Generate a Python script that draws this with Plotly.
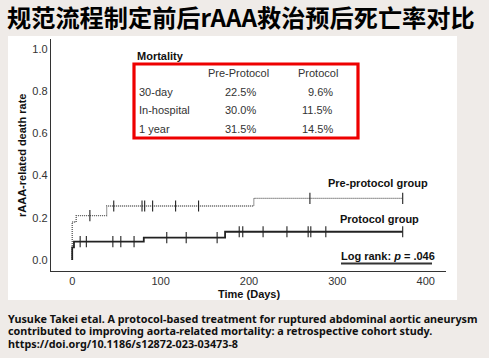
import numpy as np
import plotly.graph_objects as go

# ---------------- data ----------------
pre_times = [0, 0, 4.5, 39, 205.5, 374]
pre_rates = [0, 0.18, 0.21, 0.256, 0.292, 0.292]
pre_censor = [20, 47, 79, 82, 91, 117, 143, 269, 374]

pro_times = [0, 0, 2, 81, 173, 374]
pro_rates = [0, 0.06, 0.087, 0.106, 0.134, 0.134]
pro_censor = [9, 16, 46, 55, 70, 107, 129, 164, 189, 193, 216, 243, 267, 270, 287, 374]

x_ticks = [0, 100, 200, 300, 400]
y_ticks = [0.0, 0.2, 0.4, 0.6, 0.8, 1.0]

table_cols = ["Pre-Protocol", "Protocol"]
table_rows = ["30-day", "In-hospital", "1 year"]
table_pre = ["22.5%", "30.0%", "31.5%"]
table_pro = ["9.6%", "11.5%", "14.5%"]

title = "规范流程制定前后rAAA救治预后死亡率对比"
caption = [
    "Yusuke Takei etal. A protocol-based treatment for ruptured abdominal aortic aneurysm",
    "contributed to improving aorta-related mortality: a retrospective cohort study.",
    "https://doi.org/10.1186/s12872-023-03473-8",
]


def step_value(times, rates, t):
    idx = np.searchsorted(np.array(times), t, side="right") - 1
    return rates[max(idx, 0)]


W, H = 489, 358
L, R, T, B = 51, 446, 39, 271
BG = "#efebe8"


def px(x):
    return (x - L) / (R - L)


def py(y):
    return (B - y) / (B - T)


FONT = "Liberation Sans, Arial, sans-serif"
TXT = "#333333"

fig = go.Figure()

fig.add_trace(go.Scatter(x=pre_times, y=pre_rates, mode="lines", line_shape="hv",
                         line=dict(color="#555555", width=1.3, dash="1px,1px"), hoverinfo="skip"))
fig.add_trace(go.Scatter(x=pre_censor, y=[step_value(pre_times, pre_rates, t) for t in pre_censor],
                         mode="markers", marker=dict(symbol="line-ns", size=8,
                                                     line=dict(width=1.1, color="#222"))))
fig.add_trace(go.Scatter(x=pro_times, y=pro_rates, mode="lines", line_shape="hv",
                         line=dict(color="#222222", width=1.8), hoverinfo="skip"))
fig.add_trace(go.Scatter(x=pro_censor, y=[step_value(pro_times, pro_rates, t) for t in pro_censor],
                         mode="markers", marker=dict(symbol="line-ns", size=8,
                                                     line=dict(width=1.1, color="#222"))))

shapes = [
    # white panel
    dict(type="rect", xref="paper", yref="paper", x0=px(8), x1=px(457), y0=py(300), y1=py(36),
         fillcolor="white", line=dict(width=0), layer="below"),
    # red box
    dict(type="rect", xref="paper", yref="paper", x0=px(134), x1=px(358), y0=py(138), y1=py(64),
         fillcolor="rgba(0,0,0,0)", line=dict(width=3.2, color="#ee0000")),
    # underline for log rank
    dict(type="line", xref="paper", yref="paper", x0=px(341), x1=px(432), y0=py(263.5), y1=py(263.5),
         line=dict(width=1.8, color="#333")),
]

ann = []


def add_text(text, x, y, size=11, bold=False, xanchor="left", color=TXT, font=FONT, angle=0):
    ann.append(dict(text=("<b>%s</b>" % text) if bold else text, x=px(x), y=py(y),
                    xref="paper", yref="paper", xanchor=xanchor, yanchor="middle",
                    showarrow=False, textangle=angle, borderpad=0, borderwidth=0,
                    font=dict(size=size, color=color, family=font)))


add_text("Mortality", 137, 56, bold=True, color="#111")
add_text(table_cols[0], 238, 73.5, xanchor="center")
add_text(table_cols[1], 318, 73.5, xanchor="center")
for i, lab in enumerate(table_rows):
    yy = 92 + i * 18.3
    add_text(lab, 139, yy)
    add_text(table_pre[i], 256, yy, xanchor="right")
    add_text(table_pro[i], 333, yy, xanchor="right")

add_text("Pre-protocol group", 328, 183, bold=True, color="#111")
add_text("Protocol group", 340, 218.5, bold=True, color="#111")
add_text("Log rank: <i>p</i> = .046", 341, 256, bold=True, color="#111")
add_text("rAAA-related death rate", 21.5, 155.5, bold=True, xanchor="center", color="#111", angle=-90)
add_text("Time (Days)", 248.5, 294, bold=True, xanchor="center", color="#111")

add_text(title, 7, 16.5, size=24.2, bold=True, color="#000",
         font="Noto Sans CJK SC, sans-serif")
for i, line in enumerate(caption):
    add_text(line, 8, 318 + i * 12.5, size=10.8, bold=True, color="#111",
             font="Noto Sans, sans-serif")

fig.update_layout(
    width=W, height=H,
    margin=dict(l=L, r=W - R, t=T, b=H - B, pad=0),
    paper_bgcolor=BG,
    plot_bgcolor="rgba(0,0,0,0)",
    showlegend=False,
    shapes=shapes,
    annotations=ann,
    xaxis=dict(range=[-24, 423], tickvals=x_ticks, ticktext=[str(v) for v in x_ticks],
               showgrid=False, zeroline=False, showline=True, linecolor="#333", linewidth=1.4,
               ticks="", tickfont=dict(size=11, color=TXT, family=FONT)),
    yaxis=dict(range=[-0.052, 1.047], tickvals=y_ticks, ticktext=["%.1f" % v for v in y_ticks],
               showgrid=False, zeroline=False, showline=True, linecolor="#333", linewidth=1.4,
               ticks="", tickfont=dict(size=11, color=TXT, family=FONT)),
)

fig.write_html("out.html", config={"displayModeBar": False},
               post_script="document.body.style.margin='0';document.body.style.background='%s';" % BG)
